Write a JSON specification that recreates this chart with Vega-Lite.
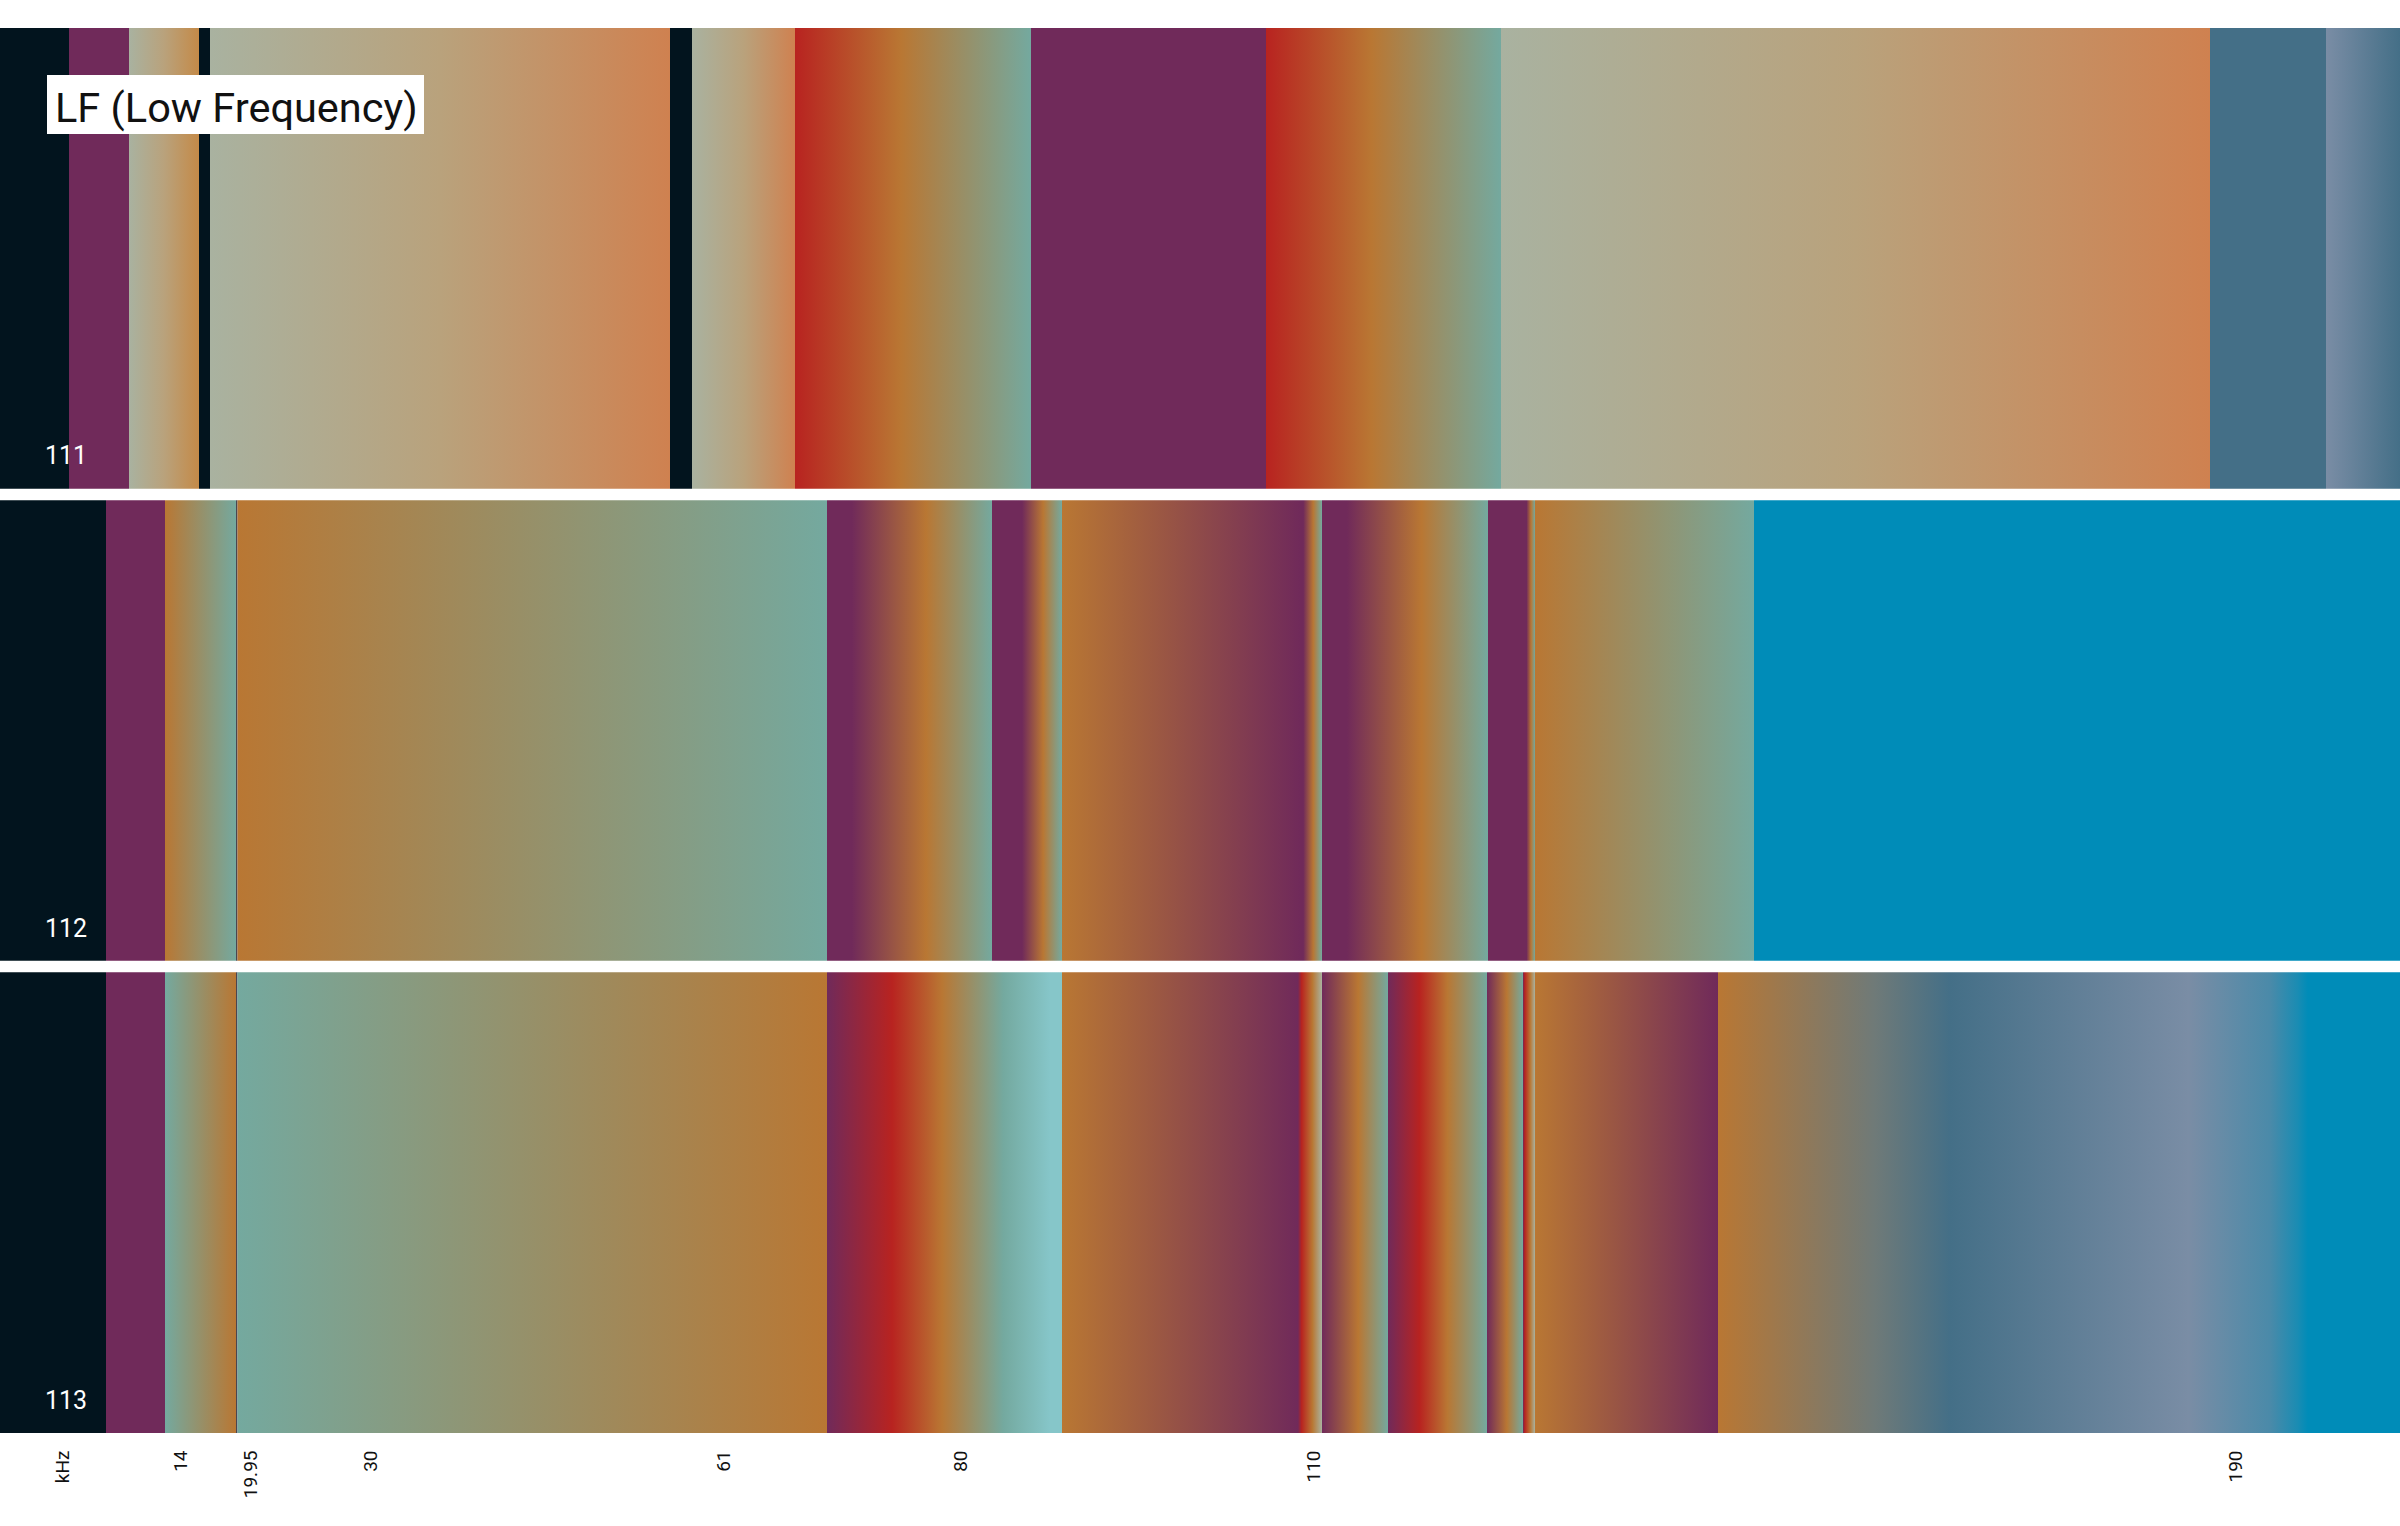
{"$schema":"https://vega.github.io/schema/vega-lite/v6.json","autosize":"none","padding":{"left":0,"top":28,"right":0,"bottom":93},"width":2400,"height":1405,"background":"white","config":{"view":{"stroke":null}},"datasets":{"bands":[
{"row":"111","x0":0,"x1":69,"kind":"dark"},{"row":"111","x0":69,"x1":129,"kind":"purple"},{"row":"111","x0":129,"x1":199,"kind":"sageOrange"},{"row":"111","x0":199,"x1":210,"kind":"dark"},{"row":"111","x0":210,"x1":670,"kind":"sageSand"},{"row":"111","x0":670,"x1":692,"kind":"dark"},{"row":"111","x0":692,"x1":795,"kind":"sageSand"},{"row":"111","x0":795,"x1":1031,"kind":"redOrangeTeal"},{"row":"111","x0":1031,"x1":1266,"kind":"purple"},{"row":"111","x0":1266,"x1":1501,"kind":"redOrangeTeal"},{"row":"111","x0":1501,"x1":2210,"kind":"sageSand"},{"row":"111","x0":2210,"x1":2326,"kind":"steel"},{"row":"111","x0":2326,"x1":2400,"kind":"slateSteel"},
{"row":"112","x0":0,"x1":106,"kind":"dark"},{"row":"112","x0":106,"x1":165,"kind":"purple"},{"row":"112","x0":165,"x1":236,"kind":"orangeTeal"},{"row":"112","x0":236,"x1":237.5,"kind":"line"},{"row":"112","x0":237.5,"x1":827,"kind":"orangeTeal"},{"row":"112","x0":827,"x1":992,"kind":"purpleOrangeTeal"},{"row":"112","x0":992,"x1":1015,"kind":"purple"},{"row":"112","x0":1015,"x1":1062,"kind":"purpleOrangeTeal"},{"row":"112","x0":1062,"x1":1300,"kind":"orangePurple"},{"row":"112","x0":1300,"x1":1322,"kind":"purpleOrangeTeal"},{"row":"112","x0":1322,"x1":1488,"kind":"purpleOrangeTeal"},{"row":"112","x0":1488,"x1":1525,"kind":"purple"},{"row":"112","x0":1525,"x1":1535,"kind":"purpleOrangeTeal"},{"row":"112","x0":1535,"x1":1754,"kind":"orangeTeal"},{"row":"112","x0":1754,"x1":2400,"kind":"blue"},
{"row":"113","x0":0,"x1":106,"kind":"dark"},{"row":"113","x0":106,"x1":165,"kind":"purple"},{"row":"113","x0":165,"x1":236,"kind":"tealOrange"},{"row":"113","x0":236,"x1":237.5,"kind":"line"},{"row":"113","x0":237.5,"x1":827,"kind":"tealOrange"},{"row":"113","x0":827,"x1":1062,"kind":"purpleRedLight"},{"row":"113","x0":1062,"x1":1298,"kind":"orangePurple"},{"row":"113","x0":1298,"x1":1322,"kind":"redOrangeSage"},{"row":"113","x0":1322,"x1":1388,"kind":"purpleOrangeTeal2"},{"row":"113","x0":1388,"x1":1487,"kind":"purpleRedOrangeTeal"},{"row":"113","x0":1487,"x1":1523,"kind":"purpleOrangeTeal2"},{"row":"113","x0":1523,"x1":1535,"kind":"redOrangeSage"},{"row":"113","x0":1535,"x1":1718,"kind":"orangePurple"},{"row":"113","x0":1718,"x1":2400,"kind":"spectrum"}],
"rowLabels":[{"row":"111","x":66},{"row":"112","x":66},{"row":"113","x":66}],
"banner":[{"x0":47,"x1":424,"y0":47,"y1":106,"tx":55,"ty":82,"label":"LF (Low Frequency)"}]},
"resolve":{"scale":{"y":"independent"}},
"layer":[
{"data":{"name":"bands"},"mark":{"type":"rect"},"encoding":{
"x":{"field":"x0","type":"quantitative","scale":{"domain":[0,2400],"nice":false,"zero":false},"axis":{"title":null,"domain":false,"ticks":false,"grid":false,"values":[62,180,250,370,723.5,960,1313,2235],"labelExpr":"{'62':'kHz','180':'14','250':'19.95','370':'30','723.5':'61','960':'80','1313':'110','2235':'190'}[datum.value]","labelAngle":-90,"labelAlign":"right","labelBaseline":"middle","labelFont":"Roboto","labelFontSize":19,"labelColor":"#111111","labelPadding":17,"labelOverlap":false,"labelFlush":false,"labelBound":false}},
"x2":{"field":"x1"},
"y":{"field":"row","type":"nominal","axis":null,"scale":{"domain":["111","112","113"],"paddingInner":0.0243,"paddingOuter":0}},
"fill":{"field":"kind","type":"nominal","legend":null,"scale":{"domain":["dark","line","purple","steel","blue","sageSand","sageOrange","slateSteel","redOrangeTeal","purpleOrangeTeal","orangeTeal","tealOrange","orangePurple","purpleRedLight","redOrangeSage","purpleOrangeTeal2","purpleRedOrangeTeal","spectrum"],"range":["#02141e","#4a4650","#702a5a","#446f87","#008cb8",
{"expr":"{gradient:'linear',stops:[{offset:0,color:'#a9b2a0'},{offset:0.5,color:'#b9a27c'},{offset:1,color:'#cf8150'}]}"},
{"expr":"{gradient:'linear',stops:[{offset:0,color:'#a9b2a0'},{offset:0.5,color:'#b9a27c'},{offset:1,color:'#c48a48'}]}"},
{"expr":"{gradient:'linear',stops:[{offset:0,color:'#7a8da5'},{offset:1,color:'#446f87'}]}"},
{"expr":"{gradient:'linear',stops:[{offset:0,color:'#b82320'},{offset:0.45,color:'#b97733'},{offset:1,color:'#74a99f'}]}"},
{"expr":"{gradient:'linear',stops:[{offset:0,color:'#702a5a'},{offset:0.15,color:'#702a5a'},{offset:0.6,color:'#b97733'},{offset:1,color:'#74a99f'}]}"},
{"expr":"{gradient:'linear',stops:[{offset:0,color:'#b97733'},{offset:1,color:'#74a99f'}]}"},
{"expr":"{gradient:'linear',stops:[{offset:0,color:'#74a99f'},{offset:1,color:'#b97733'}]}"},
{"expr":"{gradient:'linear',stops:[{offset:0,color:'#b97733'},{offset:1,color:'#702a5a'}]}"},
{"expr":"{gradient:'linear',stops:[{offset:0,color:'#702a5a'},{offset:0.277,color:'#b82320'},{offset:0.49,color:'#b97733'},{offset:0.75,color:'#74a99f'},{offset:0.95,color:'#86c6c9'},{offset:1,color:'#86c6c9'}]}"},
{"expr":"{gradient:'linear',stops:[{offset:0,color:'#702a5a'},{offset:0.15,color:'#b82320'},{offset:0.6,color:'#b97733'},{offset:1,color:'#a9b2a0'}]}"},
{"expr":"{gradient:'linear',stops:[{offset:0,color:'#702a5a'},{offset:0.55,color:'#b97733'},{offset:1,color:'#74a99f'}]}"},
{"expr":"{gradient:'linear',stops:[{offset:0,color:'#702a5a'},{offset:0.32,color:'#b82320'},{offset:0.6,color:'#b97733'},{offset:1,color:'#74a99f'}]}"},
{"expr":"{gradient:'linear',stops:[{offset:0,color:'#b97733'},{offset:0.23,color:'#6f7a78'},{offset:0.34,color:'#446f87'},{offset:0.69,color:'#7a8da5'},{offset:0.81,color:'#4a8aa9'},{offset:0.85,color:'#1a8cb3'},{offset:0.865,color:'#008cb8'},{offset:1,color:'#008cb8'}]}"}
]}}}},
{"data":{"name":"rowLabels"},"mark":{"type":"text","font":"Roboto","fontSize":25,"color":"white","baseline":"middle","align":"center","dy":198},"encoding":{"x":{"field":"x","type":"quantitative"},"y":{"field":"row","type":"nominal","axis":null,"scale":{"type":"band","domain":["111","112","113"],"paddingInner":0.0243,"paddingOuter":0}},"text":{"field":"row"}}},
{"data":{"name":"banner"},"mark":{"type":"rect","fill":"white"},"encoding":{"x":{"field":"x0","type":"quantitative"},"x2":{"field":"x1"},"y":{"field":"y0","type":"quantitative","axis":null,"scale":{"domain":[0,1405],"range":[0,1405],"nice":false,"zero":false}},"y2":{"field":"y1"}}},
{"data":{"name":"banner"},"mark":{"type":"text","font":"Roboto","fontSize":41.5,"color":"#111111","baseline":"middle","align":"left"},"encoding":{"x":{"field":"tx","type":"quantitative"},"y":{"field":"ty","type":"quantitative","axis":null,"scale":{"domain":[0,1405],"range":[0,1405],"nice":false,"zero":false}},"text":{"field":"label"}}}
]}
